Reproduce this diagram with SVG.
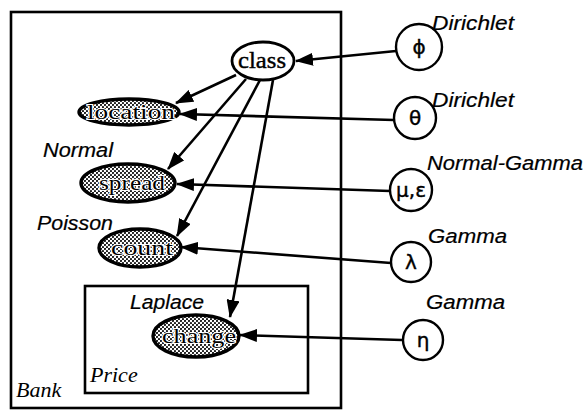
<svg xmlns="http://www.w3.org/2000/svg" width="587" height="412" viewBox="0 0 587 412">
  <defs>
    <!-- halftone stipple used for the observed (shaded) variables -->
    <pattern id="stipple" width="4" height="4" patternUnits="userSpaceOnUse">
      <rect width="4" height="4" fill="#ffffff"/>
      <circle cx="1" cy="1" r="1.1" fill="#111"/>
      <circle cx="3" cy="3" r="1.1" fill="#111"/>
    </pattern>
    <marker id="arrow" markerUnits="userSpaceOnUse" markerWidth="18" markerHeight="13" refX="17" refY="6.5" orient="auto">
      <path d="M0,0 L18,6.5 L0,13 Z" fill="#000"/>
    </marker>
    <style>
      .plate { fill: none; stroke: #000; stroke-width: 2.6; }
      .edge { fill: none; stroke: #000; stroke-width: 2.6; marker-end: url(#arrow); }
      .latent { fill: #fff; stroke: #000; stroke-width: 2.8; }
      .observed { fill: url(#stipple); stroke: #000; stroke-width: 3.4; }
      .param { fill: #fff; stroke: #000; stroke-width: 2.4; }
      .dist { font-family: "Liberation Sans", Arial, sans-serif; font-style: italic; font-size: 20px; fill: #000; stroke: #000; stroke-width: 0.2; }
      .plabel { font-family: "Liberation Serif", "Times New Roman", serif; font-style: italic; font-size: 22px; fill: #000; }
      .vname { font-family: "Liberation Serif", "Times New Roman", serif; font-size: 23px; fill: #000; text-anchor: middle; stroke: #000; stroke-width: 0.4; }
      .obsname { font-family: "Liberation Serif", "Times New Roman", serif; font-size: 20px; fill: #000; text-anchor: middle; stroke: #fff; stroke-width: 2; paint-order: stroke; }
      .greek { font-family: "DejaVu Sans", "Liberation Sans", sans-serif; font-size: 20px; fill: #000; text-anchor: middle; stroke: #000; stroke-width: 0.4; }
    </style>
  </defs>

  <!-- plates -->
  <g id="plate-bank">
    <rect class="plate" x="11" y="12" width="330" height="396"/>
    <text class="plabel" x="16" y="397">Bank</text>
  </g>
  <g id="plate-price">
    <rect class="plate" x="85" y="286" width="223" height="107"/>
    <text class="plabel" x="90" y="382">Price</text>
  </g>

  <!-- connectors -->
  <g id="connectors">
    <line class="edge" x1="396" y1="51" x2="296" y2="61"/>
    <line class="edge" x1="236" y1="75" x2="176" y2="103"/>
    <line class="edge" x1="246" y1="79" x2="168" y2="169"/>
    <line class="edge" x1="260" y1="80" x2="177" y2="236"/>
    <line class="edge" x1="273" y1="80" x2="230" y2="317"/>
    <line class="edge" x1="394" y1="120" x2="180" y2="114"/>
    <line class="edge" x1="390" y1="191" x2="177" y2="184"/>
    <line class="edge" x1="391" y1="263" x2="181" y2="247"/>
    <line class="edge" x1="402" y1="340" x2="240" y2="335"/>
  </g>

  <!-- model variables -->
  <g id="class">
    <ellipse class="latent" cx="263" cy="61" rx="31" ry="19"/>
    <text class="vname" x="262" y="68" textLength="48" lengthAdjust="spacingAndGlyphs">class</text>
  </g>
  <g id="location">
    <ellipse class="observed" cx="129" cy="112" rx="50" ry="13"/>
    <text class="obsname" x="131" y="119" textLength="88" lengthAdjust="spacingAndGlyphs">location</text>
  </g>
  <g id="spread">
    <ellipse class="observed" cx="128" cy="183" rx="47" ry="19"/>
    <text class="obsname" x="132" y="190" textLength="66" lengthAdjust="spacingAndGlyphs">spread</text>
    <text class="dist" x="43" y="157" textLength="70" lengthAdjust="spacingAndGlyphs">Normal</text>
  </g>
  <g id="count">
    <ellipse class="observed" cx="140" cy="248" rx="41" ry="19"/>
    <text class="obsname" x="142" y="255" textLength="62" lengthAdjust="spacingAndGlyphs">count</text>
    <text class="dist" x="37" y="230" textLength="76" lengthAdjust="spacingAndGlyphs">Poisson</text>
  </g>
  <g id="change">
    <ellipse class="observed" cx="196" cy="336" rx="43" ry="21"/>
    <text class="obsname" x="199" y="343" textLength="74" lengthAdjust="spacingAndGlyphs">change</text>
    <text class="dist" x="130" y="309" textLength="74" lengthAdjust="spacingAndGlyphs">Laplace</text>
  </g>

  <!-- priors -->
  <g id="phi">
    <circle class="param" cx="419" cy="47" r="23"/>
    <text class="greek" x="419" y="54">ϕ</text>
    <text class="dist" x="432" y="30" textLength="82" lengthAdjust="spacingAndGlyphs">Dirichlet</text>
  </g>
  <g id="theta">
    <circle class="param" cx="415" cy="118" r="21"/>
    <text class="greek" x="415" y="125">θ</text>
    <text class="dist" x="432" y="107" textLength="82" lengthAdjust="spacingAndGlyphs">Dirichlet</text>
  </g>
  <g id="mu-epsilon">
    <circle class="param" cx="411" cy="190" r="21"/>
    <text class="greek" x="411" y="197" font-size="17">μ,ε</text>
    <text class="dist" x="427" y="170" textLength="156" lengthAdjust="spacingAndGlyphs">Normal-Gamma</text>
  </g>
  <g id="lambda">
    <circle class="param" cx="411" cy="262" r="20"/>
    <text class="greek" x="411" y="269">λ</text>
    <text class="dist" x="428" y="243" textLength="79" lengthAdjust="spacingAndGlyphs">Gamma</text>
  </g>
  <g id="eta">
    <circle class="param" cx="423" cy="340" r="20"/>
    <text class="greek" x="423" y="347">η</text>
    <text class="dist" x="426" y="309" textLength="79" lengthAdjust="spacingAndGlyphs">Gamma</text>
  </g>
</svg>
